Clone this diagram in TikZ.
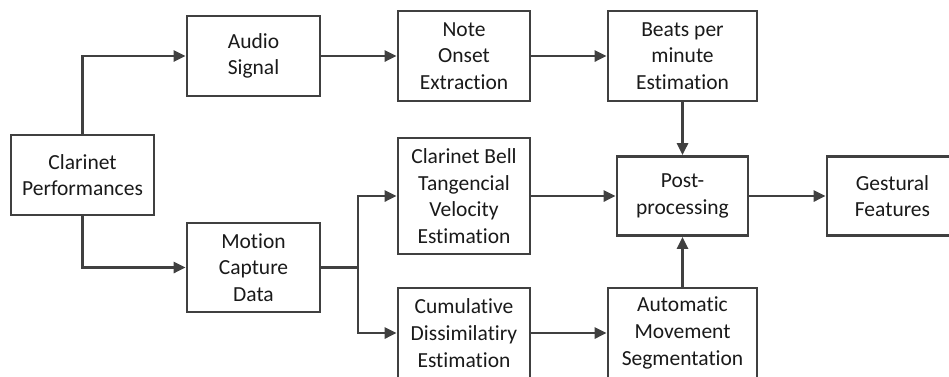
\documentclass[tikz,border=0pt]{standalone}
\usepackage{fontspec}
\setmainfont{Carlito}[Ligatures={NoCommon}]
\usetikzlibrary{arrows.meta}
\definecolor{linegray}{HTML}{404040}
\definecolor{txt}{HTML}{1A1A1A}
\begin{document}
\begin{tikzpicture}[x=1pt,y=-1pt,
  blk/.style={draw=linegray,line width=2.7pt,fill=white,inner sep=0pt,align=center,
    text=txt,font=\fontsize{21.5}{26.7}\selectfont},
  conn/.style={draw=linegray,line width=2.7pt,-{Triangle[length=12pt,width=11pt]}},
  plain/.style={draw=linegray,line width=2.7pt}]
\useasboundingbox (0,0) rectangle (949,376);
\node[blk,minimum width=143pt,minimum height=80pt] (cp) at (82.5,175) {Clarinet\\Performances};
\node[blk,minimum width=133pt,minimum height=80pt] (as) at (253.5,56) {Audio\\Signal};
\node[blk,minimum width=133pt,minimum height=89pt] (mc) at (253.5,267.5) {Motion\\Capture\\Data};
\node[blk,minimum width=132pt,minimum height=90pt] (no) at (464,56) {Note\\Onset\\Extraction};
\node[blk,minimum width=132pt,minimum height=116pt] (cb) at (464,196) {Clarinet Bell\\Tangencial\\Velocity\\Estimation};
\node[blk,minimum width=132pt,minimum height=90pt] (cu) at (464,333) {Cumulative\\Dissimilatiry\\Estimation};
\node[blk,minimum width=149pt,minimum height=90pt] (bp) at (682.5,56) {Beats per\\minute\\Estimation};
\node[blk,minimum width=131pt,minimum height=79pt] (pp) at (682.5,196) {Post-\\processing};
\node[blk,minimum width=131pt,minimum height=79pt] (gf) at (892.5,196) {Gestural\\Features};
\node[blk,minimum width=149pt,minimum height=90pt] (am) at (682.5,333) {Automatic\\Movement\\Segmentation};
\coordinate (j) at (358,267.5);
\draw[conn] (cp.north) |- (as.west);
\draw[conn] (cp.south) |- (mc.west);
\draw[conn] (as.east) -- (no.west);
\draw[conn] (no.east) -- (bp.west);
\draw[plain] (mc.east) -- (j);
\draw[conn] (j) |- (cb.west);
\draw[conn] (j) |- (cu.west);
\draw[conn] (cb.east) -- (pp.west);
\draw[conn] (cu.east) -- (am.west);
\draw[conn] (bp.south) -- (pp.north);
\draw[conn] (am.north) -- (pp.south);
\draw[conn] (pp.east) -- (gf.west);
\end{tikzpicture}
\end{document}
